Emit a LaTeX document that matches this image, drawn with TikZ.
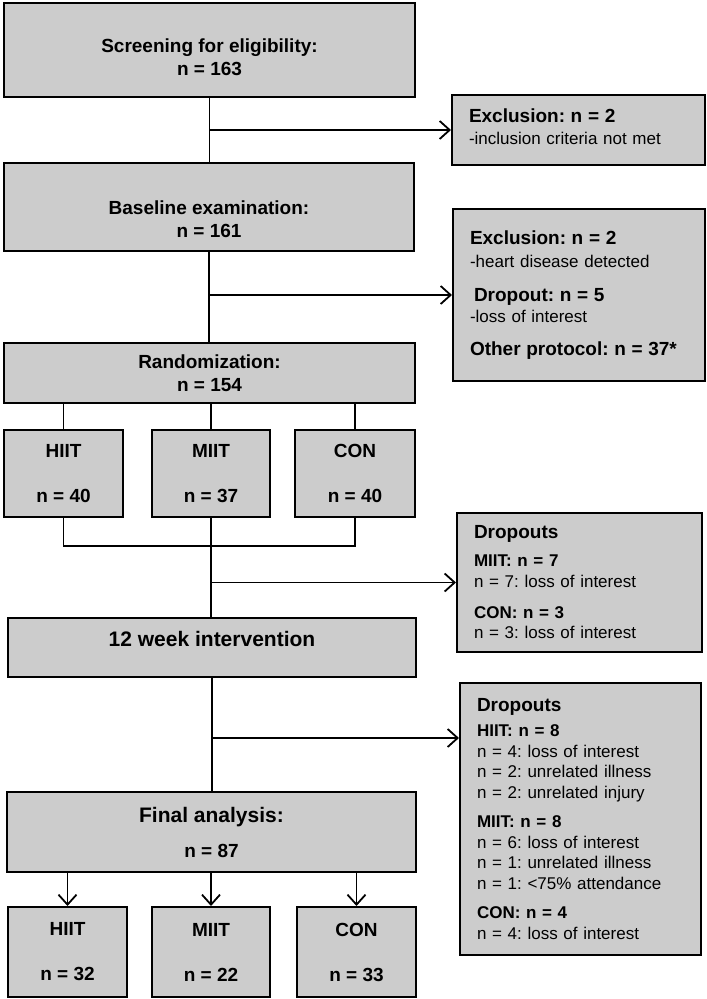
\documentclass[tikz,border=0pt]{standalone}
\usepackage{fontspec}
\setmainfont{Liberation Sans}
\usetikzlibrary{arrows,arrows.meta,positioning,shapes}

\newcommand{\boxhead}[1]{{\fontsize{19}{21}\selectfont\bfseries #1}}

\begin{document}
\frenchspacing
\begin{tikzpicture}[x=1pt, y=-1pt,
    box/.style={rectangle, draw, line width=2pt, fill=black!20, align=center, inner sep=0pt,
        font=\fontsize{19}{22.5}\selectfont\bfseries},
    sidebox/.style={rectangle, draw, line width=2pt, fill=black!20, align=left, inner xsep=17pt,
        inner ysep=0pt, font=\fontsize{17}{20.5}\selectfont},
    line/.style={line width=1.8pt},
    arr/.style={line width=1.8pt, -{Straight Barb[length=10pt,width=18pt,line width=1.8pt]}}]
    \useasboundingbox (0,0) rectangle (707,999);

    % main column
    \node[box, minimum width=411pt, minimum height=94pt] (screen) at (209.5,50) {\rule{0pt}{28pt}Screening for eligibility:\\ n = 163};
    \node[box, minimum width=410pt, minimum height=88pt] (base) at (209,207) {\rule{0pt}{38pt}Baseline examination:\\ n = 161};
    \node[box, minimum width=411pt, minimum height=60pt] (rand) at (209.5,373) {Randomization:\\ n = 154};

    % groups after randomization
    \node[box, minimum width=119pt, minimum height=87pt] (hiit1) at (63.5,473.5) {HIIT\\[22.5pt] n = 40};
    \node[box, minimum width=118pt, minimum height=87pt] (miit1) at (211,473.5) {MIIT\\[22.5pt] n = 37};
    \node[box, minimum width=120pt, minimum height=87pt] (con1) at (355,473.5) {CON\\[22.5pt] n = 40};

    \node[box, font=\fontsize{21}{24}\selectfont\bfseries, minimum width=408pt, minimum height=59pt] (interv) at (212,647.5) {\rule[-18pt]{0pt}{18pt}12 week intervention};
    \node[box, minimum width=409pt, minimum height=80pt] (final) at (211.5,832) {{\fontsize{21}{22}\selectfont Final analysis:}\\[12.5pt] n = 87};

    % groups in final analysis
    \node[box, minimum width=119pt, minimum height=90pt] (hiit2) at (67.5,952) {HIIT\\[22.5pt] n = 32};
    \node[box, minimum width=118pt, minimum height=90pt] (miit2) at (211,952) {MIIT\\[22.5pt] n = 22};
    \node[box, minimum width=119pt, minimum height=90pt] (con2) at (356.5,952) {CON\\[22.5pt] n = 33};

    % side boxes
    \node[sidebox, text width=219pt, minimum height=70pt] (excl1) at (578.5,130)
        {\boxhead{Exclusion: n = 2}\\[1.5pt] -inclusion criteria not met\rule[-6pt]{0pt}{6pt}};
    \node[sidebox, text width=218pt, minimum height=172pt] (excl2) at (579,295)
        {\boxhead{Exclusion: n = 2}\\[2.5pt] -heart disease detected\\[13.5pt]
         \hspace{4pt}\boxhead{Dropout: n = 5}\\ -loss of interest\\[12.5pt]
         \boxhead{Other protocol: n = 37*}};
    \node[sidebox, text width=211pt, minimum height=139pt] (drop1) at (579.5,582.5)
        {\boxhead{Dropouts}\\[7.5pt] \textbf{MIIT: n = 7}\\ n = 7: loss of interest\\[10.5pt]
         \textbf{CON: n = 3}\\ n = 3: loss of interest};
    \node[sidebox, text width=207pt, minimum height=272pt] (drop2) at (580.5,819)
        {\boxhead{Dropouts}\\[5pt] \textbf{HIIT: n = 8}\\ n = 4: loss of interest\\
         n = 2: unrelated illness\\ n = 2: unrelated injury\\[9pt]
         \textbf{MIIT: n = 8}\\ n = 6: loss of interest\\ n = 1: unrelated illness\\
         n = 1: <75\% attendance\\[9pt]
         \textbf{CON: n = 4}\\ n = 4: loss of interest};

    % connectors
    \draw[line] (screen.south) -- (screen.south |- base.north);
    \coordinate (c1) at (screen.south |- excl1.west);
    \draw[arr] (c1) -- (excl1.west);

    \draw[line] (base.south) -- (base.south |- rand.north);
    \coordinate (c2) at (base.south |- excl2.west);
    \draw[arr] (c2) -- (excl2.west);

    \foreach \g in {hiit1,miit1,con1}
        \draw[line] (\g.north |- rand.south) -- (\g.north);

    \coordinate (join) at (211,546);
    \draw[line] (hiit1.south) -- (hiit1.south |- join) -- (con1.south |- join) -- (con1.south);
    \draw[line] (miit1.south) -- (miit1.south |- interv.north);
    \coordinate (c3) at (miit1.south |- drop1.west);
    \draw[arr] (c3) -- (drop1.west);

    \draw[line] (interv.south) -- (interv.south |- final.north);
    \coordinate (c4) at (interv.south |- 0,738);
    \draw[arr] (c4) -- (c4 -| drop2.west);

    \foreach \g in {hiit2,miit2,con2}
        \draw[arr] (\g.north |- final.south) -- (\g.north);
\end{tikzpicture}
\end{document}
